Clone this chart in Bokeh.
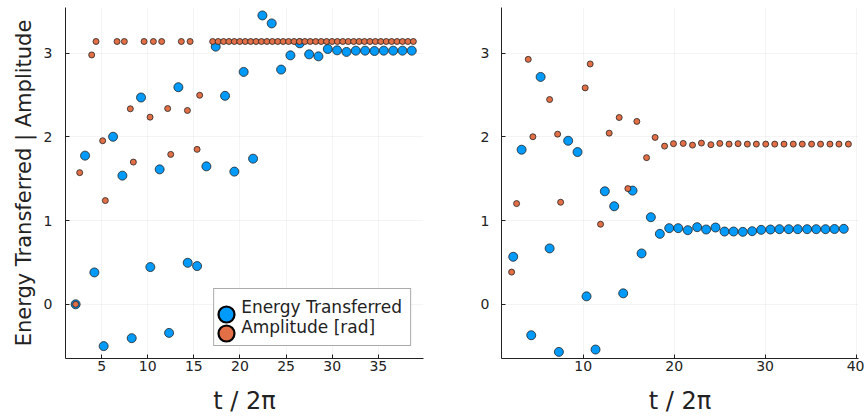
from bokeh.plotting import figure
from bokeh.layouts import row
from bokeh.models import Range1d, Legend, LegendItem, FixedTicker
from bokeh.embed import file_html
from bokeh.resources import INLINE

# ---- left panel: energy transferred and amplitude vs t / 2pi ----
left_energy_t = [2.18, 3.20, 4.21, 5.22, 6.24, 7.25, 8.26, 9.27, 10.28, 11.29,
                 12.31, 13.32, 14.33, 15.35, 16.36, 17.37, 18.38, 19.39, 20.40,
                 21.42, 22.43, 23.44, 24.46, 25.47, 26.48, 27.50, 28.51, 29.52,
                 30.53, 31.55, 32.56, 33.57, 34.58, 35.59, 36.61, 37.62, 38.63]
left_energy = [0.000, 1.777, 0.381, -0.500, 2.003, 1.538, -0.405, 2.472, 0.445,
               1.613, -0.342, 2.595, 0.496, 0.457, 1.649, 3.080, 2.492, 1.586,
               2.778, 1.741, 3.453, 3.358, 2.806, 2.976, 3.120, 2.988, 2.964,
               3.052, 3.036, 3.017, 3.032, 3.032, 3.028, 3.032, 3.032, 3.032,
               3.032]

left_amp_t = [2.18, 2.62, 3.92, 4.39, 5.11, 5.40, 6.67, 7.46, 8.11, 8.44, 9.60,
              10.25, 10.61, 11.51, 12.16, 12.49, 13.64, 14.30, 14.59, 15.35,
              15.63, 17.04, 17.63, 18.22, 18.80, 19.39, 19.98, 20.57, 21.16,
              21.74, 22.33, 22.92, 23.51, 24.10, 24.68, 25.27, 25.86, 26.45,
              27.04, 27.62, 28.21, 28.80, 29.39, 29.98, 30.56, 31.15, 31.74,
              32.33, 32.92, 33.50, 34.09, 34.68, 35.27, 35.86, 36.44, 37.03,
              37.62, 38.21, 38.80]
left_amp = [0.000, 1.574, 2.981, 3.1416, 1.955, 1.240, 3.1416, 3.1416, 2.337,
            1.700, 3.1416, 2.237, 3.1416, 3.1416, 2.340, 1.792, 3.1416, 2.317,
            3.1416, 1.852, 2.499, 3.1416, 3.1416, 3.1416, 3.1416, 3.1416,
            3.1416, 3.1416, 3.1416, 3.1416, 3.1416, 3.1416, 3.1416, 3.1416,
            3.1416, 3.1416, 3.1416, 3.1416, 3.1416, 3.1416, 3.1416, 3.1416,
            3.1416, 3.1416, 3.1416, 3.1416, 3.1416, 3.1416, 3.1416, 3.1416,
            3.1416, 3.1416, 3.1416, 3.1416, 3.1416, 3.1416, 3.1416, 3.1416,
            3.1416]

# ---- right panel ----
right_energy_t = [2.31, 3.23, 4.29, 5.32, 6.31, 7.33, 8.35, 9.38, 10.37, 11.36,
                  12.38, 13.41, 14.40, 15.43, 16.42, 17.44, 18.43, 19.46, 20.45,
                  21.50, 22.53, 23.52, 24.55, 25.54, 26.53, 27.55, 28.58, 29.57,
                  30.59, 31.58, 32.60, 33.59, 34.62, 35.62, 36.64, 37.63, 38.65]
right_energy = [0.568, 1.848, -0.370, 2.718, 0.668, -0.569, 1.955, 1.820, 0.095,
                -0.541, 1.351, 1.172, 0.131, 1.359, 0.608, 1.041, 0.842, 0.910,
                0.910, 0.886, 0.922, 0.894, 0.918, 0.870, 0.870, 0.866, 0.874,
                0.890, 0.894, 0.898, 0.898, 0.898, 0.898, 0.898, 0.898, 0.900,
                0.902]

right_amp_t = [2.13, 2.68, 3.96, 4.47, 6.31, 7.19, 7.52, 10.22, 10.77, 11.91,
               12.86, 13.96, 14.91, 15.90, 16.97, 17.91, 18.95, 19.93, 21.00,
               22.02, 23.00, 24.04, 25.02, 26.04, 27.03, 28.05, 29.04, 30.07,
               31.06, 32.08, 33.10, 34.09, 35.11, 36.10, 37.13, 38.12, 39.16]
right_amp = [0.385, 1.204, 2.928, 2.003, 2.448, 2.034, 1.220, 2.587, 2.873,
             0.957, 2.046, 2.233, 1.383, 2.186, 1.753, 1.995, 1.891, 1.920,
             1.923, 1.903, 1.927, 1.908, 1.923, 1.915, 1.920, 1.915, 1.915,
             1.915, 1.915, 1.915, 1.915, 1.915, 1.915, 1.915, 1.915, 1.915,
             1.915]

y_ticks = [0, 1, 2, 3]
left_x_ticks = [5, 10, 15, 20, 25, 30, 35]
right_x_ticks = [10, 20, 30, 40]
series_names = ["Energy Transferred", "Amplitude [rad]"]

BLUE = "#009AFA"
ORANGE = "#E36F47"
FONT = "DejaVu Sans"
INK = "#222222"
NAN = float("nan")


def make_panel(x_range, xticks, width, border_left, border_right):
    p = figure(width=width, height=418, output_backend="svg",
               toolbar_location=None, x_range=x_range,
               y_range=Range1d(-0.648, 3.548),
               min_border_left=border_left, min_border_right=border_right,
               min_border_top=7, min_border_bottom=60)
    p.outline_line_color = None
    p.background_fill_color = "white"
    p.border_fill_color = "white"
    p.xaxis.ticker = FixedTicker(ticks=xticks)
    p.yaxis.ticker = FixedTicker(ticks=y_ticks)
    for ax in (p.xaxis[0], p.yaxis[0]):
        ax.major_tick_in = 4
        ax.major_tick_out = 0
        ax.minor_tick_in = 0
        ax.minor_tick_out = 0
        ax.axis_line_color = INK
        ax.axis_line_width = 1
        ax.major_tick_line_color = INK
        ax.major_label_text_font = FONT
        ax.major_label_text_font_size = "14px"
        ax.major_label_text_color = INK
        ax.axis_label_text_font = FONT
        ax.axis_label_text_font_style = "normal"
        ax.axis_label_text_color = INK
    p.xaxis.major_label_standoff = 2
    p.yaxis.major_label_standoff = 13
    p.xaxis.axis_label = "t / 2π"
    p.xaxis.axis_label_text_font_size = "24px"
    p.xaxis.axis_label_standoff = 13
    p.grid.grid_line_color = "black"
    p.grid.grid_line_alpha = 0.08
    p.grid.grid_line_width = 0.6
    return p


left = make_panel(Range1d(1.08, 39.9), left_x_ticks, 432, 65, 9)
left.yaxis.axis_label = "Energy Transferred | Amplitude"
left.yaxis.axis_label_text_font_size = "21px"
left.yaxis.axis_label_standoff = 5

right = make_panel(Range1d(1.02, 40.27), right_x_ticks, 432, 69, 6)
right.yaxis.major_label_standoff = 12

for p, et, ev, at, av in ((left, left_energy_t, left_energy, left_amp_t, left_amp),
                          (right, right_energy_t, right_energy, right_amp_t, right_amp)):
    p.scatter(et, ev, size=9, fill_color=BLUE, line_color=INK, line_width=0.8)
    p.scatter(at, av, size=6, fill_color=ORANGE, line_color=INK, line_width=0.8)

# Legend: one boxed legend carries the labels, two borderless legends carry
# the large, heavily outlined key markers (one per row).
hidden = left.scatter([NAN], [NAN], fill_alpha=0, line_alpha=0)
labels = Legend(items=[LegendItem(label=n, renderers=[hidden]) for n in series_names],
                location="bottom_right", margin=12, padding=8, spacing=0,
                glyph_width=14, glyph_height=19, label_standoff=5,
                label_text_font=FONT, label_text_font_size="17px",
                label_text_color=INK, border_line_color="#555555",
                border_line_width=1, background_fill_color="white",
                background_fill_alpha=1)
left.add_layout(labels)

for color, (vx, vy) in ((BLUE, (140.5, 24.3)), (ORANGE, (140.5, 5.3))):
    key = left.scatter([NAN], [NAN], fill_color=color, line_color="black",
                       line_width=2.2)
    left.add_layout(Legend(items=[LegendItem(label=" ", renderers=[key])],
                           location=(vx, vy), padding=0, spacing=0, margin=0,
                           glyph_width=40, glyph_height=40, label_standoff=0,
                           label_text_font_size="1px", border_line_color=None,
                           background_fill_alpha=0))

page = row(left, right)
open("out.html", "w").write(file_html(page, INLINE))
